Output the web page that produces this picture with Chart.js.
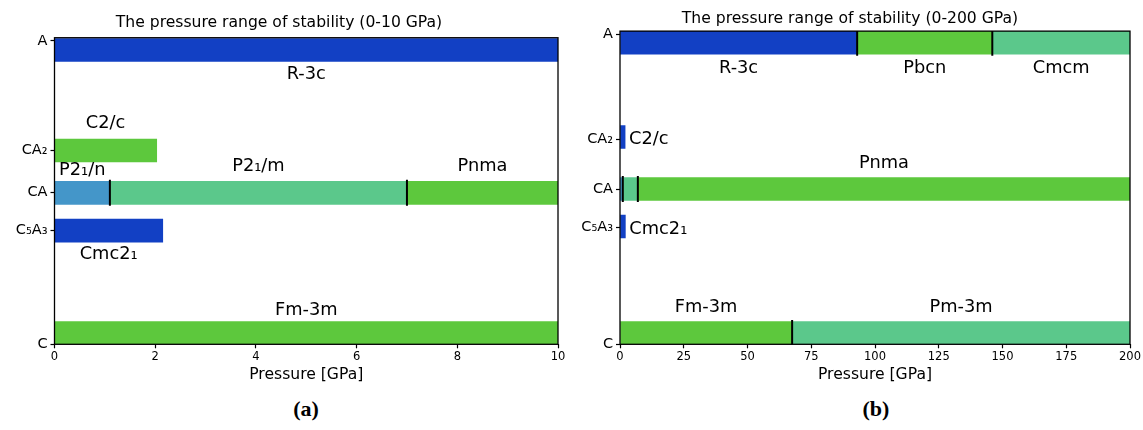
<!DOCTYPE html>
<html><head><meta charset="utf-8">
<script src="https://cdn.jsdelivr.net/npm/chart.js@4/dist/chart.umd.min.js"></script>
<style>
html,body{margin:0;padding:0;background:#fff;width:1143px;height:430px;overflow:hidden;position:relative;}
canvas{position:absolute;top:0;}
#ca{left:0;}
#cb{left:570px;}
.cap{position:absolute;top:396px;width:80px;text-align:center;font:bold 22px "Liberation Serif",serif;color:#000;}
</style></head>
<body>
<canvas id="ca" width="612" height="385"></canvas>
<canvas id="cb" width="610" height="385"></canvas>
<div class="cap" style="left:266px">(a)</div>
<div class="cap" style="left:836px">(b)</div>
<script>
// ---------- data ----------
const rowNames = ['A', 'CA₂', 'CA', 'C₅A₃', 'C'];

// panel (a): 0-10 GPa
const aTitle = 'The pressure range of stability (0-10 GPa)';
const aTickY = [99, 63.2, 49.5, 37.2, 0];
const aBarY  = [96, 63.2, 49.4, 37.1, 3.7];
const aRow   = [0, 1, 2, 2, 2, 3, 4];
const aFrom  = [0, 0, 0, 1.1, 7, 0, 0];
const aTo    = [10, 2.03, 1.1, 7, 10, 2.15, 10];
const aPhase = ['R-3c', 'C2/c', 'P2₁/n', 'P2₁/m', 'Pnma', 'Cmc2₁', 'Fm-3m'];
const aBoundX   = [1.1, 7];
const aBoundRow = [2, 2];
const aXMax = 10, aXStep = 2;

// panel (b): 0-200 GPa
const bTitle = 'The pressure range of stability (0-200 GPa)';
const bTickY = [99, 65.5, 49.5, 37.4, 0];
const bBarY  = [96.3, 66.2, 49.6, 37.6, 3.6];
const bRow   = [0, 0, 0, 1, 2, 2, 2, 3, 4, 4];
const bFrom  = [0, 93, 146, 0, 0, 1.1, 7, 0, 0, 67.5];
const bTo    = [93, 146, 200, 2, 1.1, 7, 200, 2.1, 67.5, 200];
const bPhase = ['R-3c', 'Pbcn', 'Cmcm', 'C2/c', 'P2₁/n', 'P2₁/m', 'Pnma', 'Cmc2₁', 'Fm-3m', 'Pm-3m'];
const bBoundX   = [93, 146, 1.1, 7, 67.5];
const bBoundRow = [0, 0, 2, 2, 4];
const bXMax = 200, bXStep = 25;

// ---------- styles ----------
const BLUE = '#1240c4', GREEN = '#5dc83d', TEAL = '#5bc88b', LBLUE = '#4496c9';
const aColors = [BLUE, GREEN, LBLUE, TEAL, GREEN, BLUE, GREEN];
const bColors = [BLUE, GREEN, TEAL, BLUE, LBLUE, TEAL, GREEN, BLUE, GREEN, TEAL];
// label placement: [mode, dy px from bar centre]
const aLabelPlace = [['c', 24.5], ['c', -27], ['c', -22], ['c', -26], ['c', -26], ['c', 24], ['c', -23]];
const bLabelPlace = [['c', 25.5], ['c', 25.5], ['c', 25.5], ['r', 2], null, null, ['c', -26], ['r', 2.5], ['c', -26], ['c', -26]];

Chart.defaults.font.family = '"DejaVu Sans", sans-serif';
Chart.defaults.color = '#000';

const framePlugin = {
  id: 'frame',
  afterDatasetsDraw(chart) {
    const a = chart.chartArea, ctx = chart.ctx;
    ctx.save();
    ctx.strokeStyle = '#000';
    ctx.lineWidth = 1.3;
    ctx.strokeRect(a.left, a.top, a.right - a.left, a.bottom - a.top);
    ctx.restore();
  }
};

const phaseLabelPlugin = {
  id: 'phaseLabels',
  afterDatasetsDraw(chart, args, opts) {
    const ctx = chart.ctx, xs = chart.scales.x, ys = chart.scales.y;
    ctx.save();
    ctx.fillStyle = '#000';
    ctx.font = '17.8px "DejaVu Sans"';
    ctx.textBaseline = 'middle';
    opts.phase.forEach((name, i) => {
      const pl = opts.place[i];
      if (!pl) return;
      const yc = ys.getPixelForValue(opts.barY[opts.row[i]]) + pl[1];
      if (pl[0] === 'r') {
        ctx.textAlign = 'left';
        ctx.fillText(name, xs.getPixelForValue(opts.to[i]) + 4, yc);
      } else {
        ctx.textAlign = 'center';
        ctx.fillText(name, xs.getPixelForValue((opts.from[i] + opts.to[i]) / 2), yc);
      }
    });
    ctx.restore();
  }
};

function makeChart(id, p) {
  const sortedTicks = p.tickY.map((v, i) => ({ v, name: rowNames[i] })).sort((a, b) => a.v - b.v);
  new Chart(document.getElementById(id), {
    type: 'bar',
    data: {
      datasets: [
        {
          type: 'scatter',
          order: 1,
          data: p.boundX.map((x, i) => ({ x, y: p.barY[p.boundRow[i]] })),
          pointStyle: 'line',
          rotation: 90,
          pointRadius: 13,
          pointBorderWidth: 2,
          borderWidth: 2,
          borderColor: '#000',
          backgroundColor: '#000',
          showLine: false,
          clip: 0
        },
        {
          type: 'bar',
          order: 2,
          indexAxis: 'y',
          data: p.from.map((f, i) => ({ x: [f, p.to[i]], y: p.barY[p.row[i]] })),
          backgroundColor: p.colors,
          borderWidth: 0,
          barThickness: 23,
          clip: 0
        }
      ]
    },
    options: {
      responsive: false,
      animation: false,
      events: [],
      layout: { padding: { left: 0, right: p.padRight, top: 0, bottom: 0 } },
      plugins: {
        legend: { display: false },
        tooltip: { enabled: false },
        title: {
          display: true, text: p.title, color: '#000',
          font: { size: 15.6, weight: 'normal' },
          padding: p.titlePad
        },
        phaseLabels: { phase: p.phase, from: p.from, to: p.to, row: p.row, barY: p.barY, place: p.place }
      },
      scales: {
        x: {
          type: 'linear', min: 0, max: p.xMax, offset: false,
          ticks: { stepSize: p.xStep, font: { size: 11.5 }, padding: 2, color: '#000', maxRotation: 0 },
          grid: { drawOnChartArea: false, drawTicks: true, tickLength: 4, tickColor: '#000', tickWidth: 1.2, offset: false },
          border: { display: false },
          title: { display: true, text: 'Pressure [GPa]', font: { size: 15.6 }, color: '#000', padding: { top: 0, bottom: 0.8 } },
          afterFit(s) { s.height = 40.7; }
        },
        y: {
          type: 'linear', min: 0, max: 100, offset: false,
          afterBuildTicks(s) { s.ticks = sortedTicks.map(t => ({ value: t.v })); },
          ticks: {
            autoSkip: false, font: { size: 14.5 }, padding: 3, color: '#000',
            callback: (v, i) => sortedTicks[i] ? sortedTicks[i].name : ''
          },
          grid: { drawOnChartArea: false, drawTicks: true, tickLength: 4, tickColor: '#000', tickWidth: 1.2, offset: false },
          border: { display: false },
          afterFit(s) { s.width = p.yWidth; }
        }
      }
    },
    plugins: [framePlugin, phaseLabelPlugin]
  });
}

makeChart('ca', {
  title: aTitle, tickY: aTickY, barY: aBarY, row: aRow, from: aFrom, to: aTo, phase: aPhase,
  boundX: aBoundX, boundRow: aBoundRow, xMax: aXMax, xStep: aXStep, colors: aColors, place: aLabelPlace,
  padRight: 54, yWidth: 54.5, titlePad: { top: 14, bottom: 5 }
});
makeChart('cb', {
  title: bTitle, tickY: bTickY, barY: bBarY, row: bRow, from: bFrom, to: bTo, phase: bPhase,
  boundX: bBoundX, boundRow: bBoundRow, xMax: bXMax, xStep: bXStep, colors: bColors, place: bLabelPlace,
  padRight: 50, yWidth: 50, titlePad: { top: 10, bottom: 2.4 }
});
</script>
</body></html>
